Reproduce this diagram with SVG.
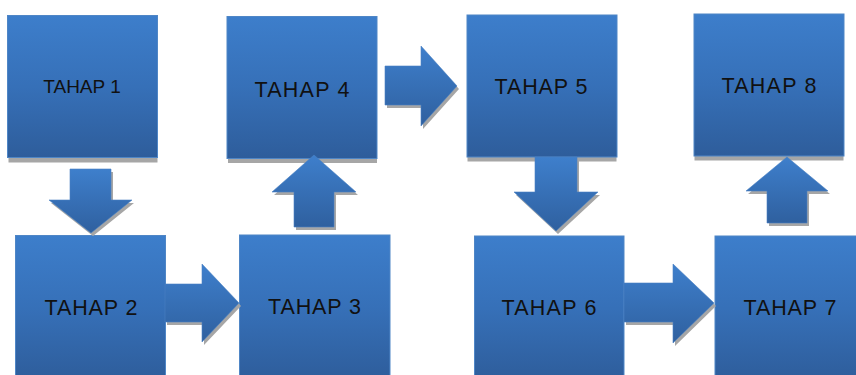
<svg xmlns="http://www.w3.org/2000/svg" width="856" height="375" viewBox="0 0 856 375">
  <defs>
    <linearGradient id="gBox" x1="0" y1="0" x2="0" y2="1">
      <stop offset="0" stop-color="#3d7ecb"/>
      <stop offset="0.5" stop-color="#3670b8"/>
      <stop offset="1" stop-color="#2e5d9b"/>
    </linearGradient>
    <linearGradient id="gArrow" x1="0" y1="0" x2="0" y2="1">
      <stop offset="0" stop-color="#3e7fcc"/>
      <stop offset="1" stop-color="#2f609f"/>
    </linearGradient>
    <style>
      .box { fill: url(#gBox); stroke: #4f86c6; stroke-width: 1; }
      .shadow { fill: #a6a6a6; }
      .arrow { fill: url(#gArrow); stroke: #4a82c3; stroke-width: 0.6; }
      .lbl { font-family: "Liberation Sans", Arial, sans-serif; font-size: 21.5px; fill: #111111; text-anchor: middle; }
    </style>
  </defs>
  <rect width="856" height="375" fill="#ffffff"/>

  <g id="node1">
    <rect class="shadow" x="8.5" y="20.5" width="149" height="142"/>
    <rect class="box" x="7.5" y="15.5" width="150" height="142"/>
    <text class="lbl" x="82" y="93" style="font-size:19px">TAHAP 1</text>
  </g>
  <g id="node2">
    <rect class="box" x="15.5" y="235.5" width="150" height="145"/>
    <text class="lbl" x="91" y="315" textLength="93" lengthAdjust="spacing">TAHAP 2</text>
  </g>
  <g id="node3">
    <rect class="box" x="239.5" y="235" width="150.5" height="145"/>
    <text class="lbl" x="314.5" y="314" textLength="93" lengthAdjust="spacing">TAHAP 3</text>
  </g>
  <g id="node4">
    <rect class="shadow" x="228" y="21" width="149" height="142"/>
    <rect class="box" x="227" y="16.5" width="150" height="142"/>
    <text class="lbl" x="302" y="97" textLength="95" lengthAdjust="spacing">TAHAP 4</text>
  </g>
  <g id="node5">
    <rect class="shadow" x="467.5" y="20" width="149" height="141.5"/>
    <rect class="box" x="467" y="15" width="150" height="142"/>
    <text class="lbl" x="541" y="94" textLength="93" lengthAdjust="spacing">TAHAP 5</text>
  </g>
  <g id="node6">
    <rect class="box" x="474.5" y="236" width="149.5" height="145"/>
    <text class="lbl" x="549" y="315" textLength="95" lengthAdjust="spacing">TAHAP 6</text>
  </g>
  <g id="node7">
    <rect class="box" x="715" y="236" width="150" height="145"/>
    <text class="lbl" x="790" y="315" textLength="93" lengthAdjust="spacing">TAHAP 7</text>
  </g>
  <g id="node8">
    <rect class="shadow" x="694.5" y="19" width="149" height="141.5"/>
    <rect class="box" x="694" y="14" width="150" height="142"/>
    <text class="lbl" x="769" y="93" textLength="95" lengthAdjust="spacing">TAHAP 8</text>
  </g>

  <g id="connectors">
    <g id="a1-2">
      <polygon class="shadow" transform="translate(2,3)" points="70,169 111,169 111,200 132,200 91,233 49,200 70,200"/>
      <polygon class="arrow" points="70,169 111,169 111,200 132,200 91,233 49,200 70,200"/>
    </g>
    <g id="a2-3">
      <polygon class="shadow" transform="translate(2,3)" points="165,284 202,284 202,264 239,303 202,342 202,322 165,322"/>
      <polygon class="arrow" points="165,284 202,284 202,264 239,303 202,342 202,322 165,322"/>
    </g>
    <g id="a3-4">
      <polygon class="shadow" transform="translate(2,3)" points="294,227 294,192 272,192 314,155 356,192 334,192 334,227"/>
      <polygon class="arrow" points="294,227 294,192 272,192 314,155 356,192 334,192 334,227"/>
    </g>
    <g id="a4-5">
      <polygon class="shadow" transform="translate(2,3)" points="385,66 421,66 421,46 457,86 421,126 421,105 385,105"/>
      <polygon class="arrow" points="385,66 421,66 421,46 457,86 421,126 421,105 385,105"/>
    </g>
    <g id="a5-6">
      <polygon class="shadow" transform="translate(2,3)" points="535,157 577,157 577,192 598,192 556,231 514,192 535,192"/>
      <polygon class="arrow" points="535,157 577,157 577,192 598,192 556,231 514,192 535,192"/>
    </g>
    <g id="a6-7">
      <polygon class="shadow" transform="translate(2,3)" points="624,283 673,283 673,264 714,303 673,343 673,322 624,322"/>
      <polygon class="arrow" points="624,283 673,283 673,264 714,303 673,343 673,322 624,322"/>
    </g>
    <g id="a7-8">
      <polygon class="shadow" transform="translate(2,3)" points="767,223 767,191 746,191 787,157 828,191 807,191 807,223"/>
      <polygon class="arrow" points="767,223 767,191 746,191 787,157 828,191 807,191 807,223"/>
    </g>
  </g>
</svg>
